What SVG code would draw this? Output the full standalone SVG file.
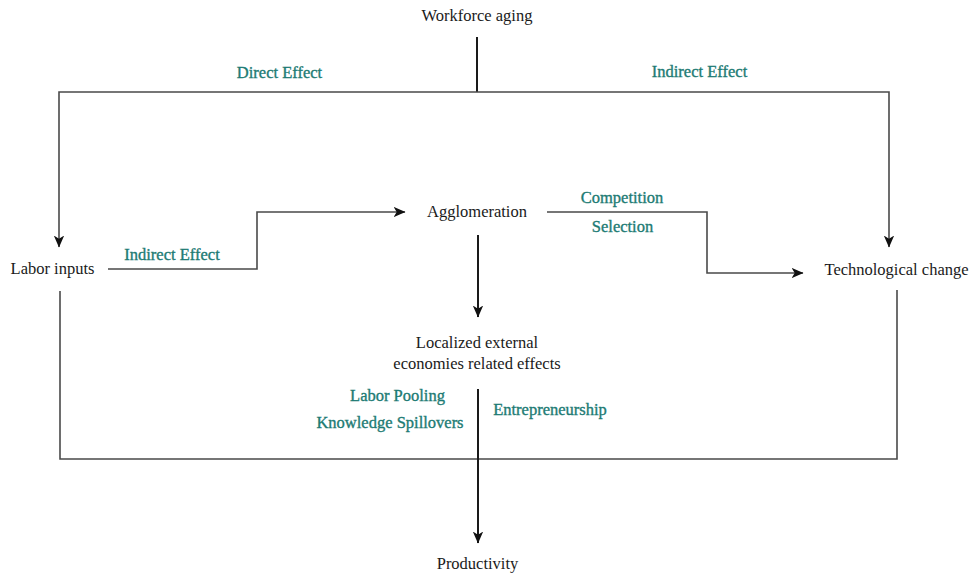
<svg xmlns="http://www.w3.org/2000/svg" width="973" height="576" viewBox="0 0 973 576">
  <style>
    .node { font-family: "Liberation Serif", "Times New Roman", serif; font-size: 16.5px; fill: #1a1a1a; text-anchor: middle; }
    .label { font-family: "Liberation Serif", "Times New Roman", serif; font-size: 16.5px; fill: #1d7b74; stroke: #1d7b74; stroke-width: 0.35px; text-anchor: middle; }
    .wire { fill: none; stroke: #4a4a4a; stroke-width: 1.6; }
    .trunk { fill: none; stroke: #1a1a1a; stroke-width: 2; }
  </style>
  <defs>
    <marker id="arrow" viewBox="0 0 12 12" markerWidth="12" markerHeight="12" markerUnits="userSpaceOnUse" refX="11.5" refY="6" orient="auto">
      <path d="M0,0.8 L12,6 L0,11.2 L3.2,6 Z" fill="#111"/>
    </marker>
  </defs>

  <rect width="973" height="576" fill="#ffffff"/>

  <!-- connectors -->
  <g id="connectors">
    <!-- workforce aging splits into direct and indirect effects -->
    <path class="trunk" d="M477,37 V92"/>
    <path class="wire" d="M477,92 H59 V247" marker-end="url(#arrow)"/>
    <path class="wire" d="M477,92 H889 V247" marker-end="url(#arrow)"/>
    <!-- labor inputs to agglomeration -->
    <path class="wire" d="M108,269 H257 V212 H405" marker-end="url(#arrow)"/>
    <!-- agglomeration to technological change -->
    <path class="wire" d="M547,212 H707 V273 H803" marker-end="url(#arrow)"/>
    <!-- agglomeration to localized effects -->
    <path class="trunk" d="M478,235 V317" marker-end="url(#arrow)"/>
    <!-- bracket joining labor inputs and technological change -->
    <path class="wire" d="M60,291 V459 H897 V290"/>
    <!-- localized effects to productivity -->
    <path class="trunk" d="M478,389 V543" marker-end="url(#arrow)"/>
  </g>

  <!-- edge labels -->
  <g id="edge-labels">
    <text class="label" x="279.5" y="78">Direct Effect</text>
    <text class="label" x="699.5" y="77">Indirect Effect</text>
    <text class="label" x="172" y="260">Indirect Effect</text>
    <text class="label" x="622" y="203">Competition</text>
    <text class="label" x="622.5" y="232">Selection</text>
    <text class="label" x="397.5" y="401">Labor Pooling</text>
    <text class="label" x="390" y="428">Knowledge Spillovers</text>
    <text class="label" x="550" y="415">Entrepreneurship</text>
  </g>

  <!-- nodes -->
  <g id="workforce-aging"><text class="node" x="477" y="21">Workforce aging</text></g>
  <g id="labor-inputs"><text class="node" x="52.5" y="274">Labor inputs</text></g>
  <g id="agglomeration"><text class="node" x="477" y="217">Agglomeration</text></g>
  <g id="technological-change"><text class="node" x="896.5" y="275">Technological change</text></g>
  <g id="localized-effects">
    <text class="node" x="477" y="348">Localized external</text>
    <text class="node" x="477" y="369">economies related effects</text>
  </g>
  <g id="productivity"><text class="node" x="477.5" y="569">Productivity</text></g>
</svg>
